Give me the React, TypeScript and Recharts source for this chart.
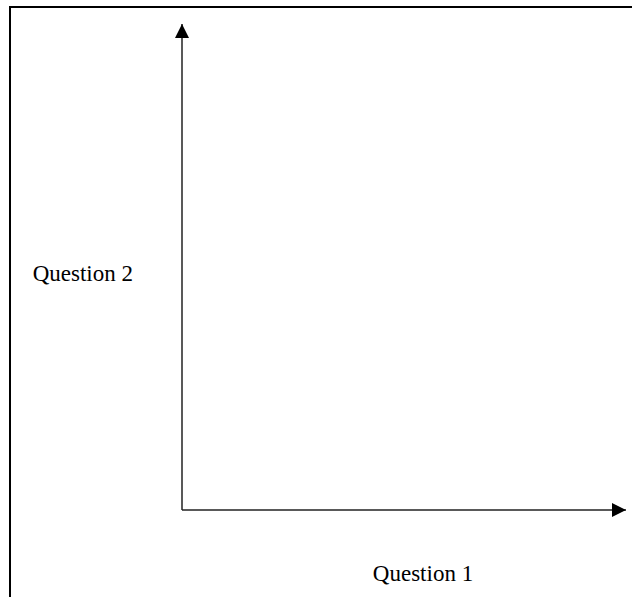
import { ScatterChart, Scatter, XAxis, YAxis, Label } from "recharts";

// survey answers (none plotted in the source figure)
const responses: { q1: number; q2: number }[] = [];
const axisTitles = ["Question 1", "Question 2"];
const axisDomain = [0, 10];

const labelFont = { fontFamily: "'Liberation Serif', 'Times New Roman', serif", fontSize: 23, fill: "#000" };

export default function App() {
  return (
    <div style={{ position: "fixed", left: 0, top: 0, width: 632, height: 597, overflow: "hidden", background: "#fff" }}>
      <div
        style={{
          position: "absolute",
          left: 9,
          top: 6,
          width: 700,
          height: 700,
          borderLeft: "2px solid #000",
          borderTop: "2px solid #000",
        }}
      />
      <div style={{ position: "absolute", left: 0, top: 0 }}>
        <ScatterChart width={632} height={597} margin={{ top: 24, right: 6, bottom: 86, left: 181 }}>
          <defs>
            <marker id="arrowHead" viewBox="0 0 10 10" refX="10" refY="5" markerWidth="16" markerHeight="14" markerUnits="userSpaceOnUse" orient="auto-start-reverse">
              <path d="M0,0 L10,5 L0,10 z" fill="#000" />
            </marker>
          </defs>
          <XAxis
            type="number"
            dataKey="q1"
            domain={axisDomain}
            height={1}
            tick={false}
            tickLine={false}
            axisLine={{ stroke: "#222", strokeWidth: 1.5, markerEnd: "url(#arrowHead)" }}
          >
            <Label value={axisTitles[0]} position="bottom" offset={54} dx={19} style={labelFont} />
          </XAxis>
          <YAxis
            type="number"
            dataKey="q2"
            domain={axisDomain}
            width={1}
            tick={false}
            tickLine={false}
            axisLine={{ stroke: "#222", strokeWidth: 1.5, markerStart: "url(#arrowHead)" }}
          >
            <Label value={axisTitles[1]} position="left" offset={48} dy={6} style={labelFont} />
          </YAxis>
          <Scatter data={responses} fill="#000" isAnimationActive={false} />
        </ScatterChart>
      </div>
    </div>
  );
}
